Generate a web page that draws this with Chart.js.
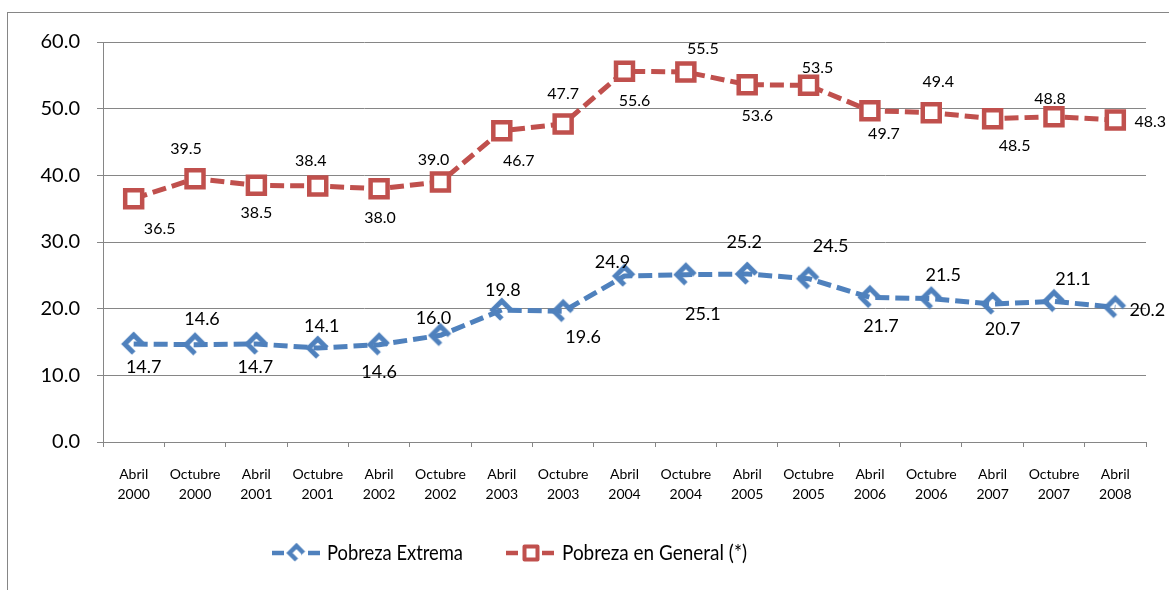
<!DOCTYPE html>
<html>
<head>
<meta charset="utf-8">
<script src="https://cdn.jsdelivr.net/npm/chart.js@4/dist/chart.umd.min.js"></script>
<style>
  html, body { margin: 0; padding: 0; background: #fff; }
  #wrap { width: 1169px; height: 590px; position: relative; }
</style>
</head>
<body>
<div id="wrap"><canvas id="c" width="1169" height="590"></canvas></div>
<script>
// ---- data ----
const categories = [
  ['Abril','2000'],['Octubre','2000'],['Abril','2001'],['Octubre','2001'],
  ['Abril','2002'],['Octubre','2002'],['Abril','2003'],['Octubre','2003'],
  ['Abril','2004'],['Octubre','2004'],['Abril','2005'],['Octubre','2005'],
  ['Abril','2006'],['Octubre','2006'],['Abril','2007'],['Octubre','2007'],
  ['Abril','2008']
];
const seriesNames = ['Pobreza Extrema', 'Pobreza en General (*)'];
const pobrezaExtrema = [14.7, 14.6, 14.7, 14.1, 14.6, 16.0, 19.8, 19.6, 24.9, 25.1, 25.2, 24.5, 21.7, 21.5, 20.7, 21.1, 20.2];
const pobrezaGeneral = [36.5, 39.5, 38.5, 38.4, 38.0, 39.0, 46.7, 47.7, 55.6, 55.5, 53.6, 53.5, 49.7, 49.4, 48.5, 48.8, 48.3];
const yTicks = [0, 10, 20, 30, 40, 50, 60];

// ---- label placement (offsets from each point, in px) ----
const extremaLabelOffsets = [[10,23],[7,-25],[-1,23],[4,-22],[0,28],[-7,-17],[1,-20],[20,26],[-12,-14],[17,40],[-3,-32],[22,-32],[11,29],[12,-23],[10,25],[19,-22],[32,3]];
const generalLabelOffsets = [[26,30],[-9,-30],[0,28],[-7,-25],[1,29],[-7,-22],[17,30],[0,-30],[10,30],[17,-23],[10,31],[9,-17],[14,23],[7,-31],[22,27],[-4,-18],[35,2]];

const BLUE = '#4F81BD';
const RED = '#C0504D';
const GRID = '#868686';
const FONT = 'Lato, "Open Sans", sans-serif';

function makeChevron(color, s, w) {
  const c = document.createElement('canvas');
  c.width = 28; c.height = 28;
  const g = c.getContext('2d');
  g.strokeStyle = color; g.lineWidth = w; g.lineJoin = 'miter'; g.lineCap = 'butt';
  const m = 14;
  g.beginPath();
  g.moveTo(m, m + s);
  g.lineTo(m - s, m);
  g.lineTo(m, m - s);
  g.lineTo(m + s, m);
  g.stroke();
  return c;
}
const chevron = makeChevron(BLUE, 9, 5);
const chevronSmall = makeChevron(BLUE, 7, 4.5);

const framePlugin = {
  id: 'frame',
  beforeDraw(chart) {
    const ctx = chart.ctx;
    ctx.save();
    ctx.fillStyle = '#fff';
    ctx.fillRect(0, 0, chart.width, chart.height);
    ctx.strokeStyle = GRID;
    ctx.lineWidth = 1;
    ctx.strokeRect(7.5, 12.5, 1300, 700);
    ctx.restore();
  }
};

const labelPlugin = {
  id: 'valueLabels',
  afterDatasetsDraw(chart) {
    const ctx = chart.ctx;
    const cfgs = [
      { idx: 0, values: pobrezaExtrema, offs: extremaLabelOffsets, size: 18 },
      { idx: 1, values: pobrezaGeneral, offs: generalLabelOffsets, size: 16 }
    ];
    ctx.save();
    ctx.fillStyle = '#000';
    ctx.textAlign = 'center';
    ctx.textBaseline = 'middle';
    cfgs.forEach(cfg => {
      const meta = chart.getDatasetMeta(cfg.idx);
      ctx.font = cfg.size + 'px ' + FONT;
      meta.data.forEach((pt, i) => {
        const o = cfg.offs[i];
        ctx.fillText(cfg.values[i].toFixed(1), pt.x + o[0], pt.y + o[1]);
      });
    });
    ctx.restore();
  }
};

const legendPlugin = {
  id: 'customLegend',
  afterDraw(chart) {
    const ctx = chart.ctx;
    const y = 553;
    const items = [
      { x0: 272, x1: 321, tx: 327, tw: 136, color: BLUE, marker: 'chev', text: seriesNames[0] },
      { x0: 506, x1: 556, tx: 562, tw: 185, color: RED, marker: 'rect', text: seriesNames[1] }
    ];
    ctx.save();
    items.forEach(it => {
      ctx.strokeStyle = it.color;
      ctx.lineWidth = 4.5;
      ctx.setLineDash([12, 6]);
      ctx.beginPath();
      ctx.moveTo(it.x0, y);
      ctx.lineTo(it.x1, y);
      ctx.stroke();
      ctx.setLineDash([]);
      const cx = (it.x0 + it.x1) / 2;
      if (it.marker === 'rect') {
        ctx.fillStyle = '#fff';
        ctx.lineWidth = 4;
        ctx.lineJoin = 'round';
        ctx.fillRect(cx - 6.5, y - 6.5, 13, 13);
        ctx.strokeRect(cx - 6.5, y - 6.5, 13, 13);
      } else {
        ctx.fillStyle = '#fff';
        ctx.fillRect(cx - 7, y - 8, 12, 16);
        ctx.drawImage(chevronSmall, cx - 14, y - 14);
      }
      ctx.fillStyle = '#000';
      ctx.font = '22px ' + FONT;
      ctx.textAlign = 'left';
      ctx.textBaseline = 'middle';
      const w = ctx.measureText(it.text).width;
      const sx = Math.min(1, it.tw / w);
      ctx.save();
      ctx.translate(it.tx, y);
      ctx.scale(sx, 1);
      ctx.fillText(it.text, 0, 0);
      ctx.restore();
    });
    ctx.restore();
  }
};

new Chart(document.getElementById('c'), {
  type: 'line',
  data: {
    labels: categories,
    datasets: [
      {
        label: seriesNames[0],
        data: pobrezaExtrema,
        borderColor: BLUE,
        backgroundColor: BLUE,
        borderWidth: 5,
        borderDash: [14, 6],
        tension: 0,
        pointStyle: chevron,
        pointRadius: 10,
        pointHoverRadius: 10
      },
      {
        label: seriesNames[1],
        data: pobrezaGeneral,
        borderColor: RED,
        backgroundColor: '#fff',
        borderWidth: 5,
        borderDash: [14, 6],
        tension: 0,
        pointStyle: 'rect',
        pointRadius: 12,
        pointHoverRadius: 12,
        pointBorderWidth: 4.5,
        pointBorderColor: RED,
        pointBackgroundColor: '#fff'
      }
    ]
  },
  options: {
    responsive: false,
    animation: false,
    devicePixelRatio: 1,
    layout: { padding: { top: 42, right: 23, left: 0, bottom: 0 } },
    plugins: {
      legend: { display: false },
      tooltip: { enabled: false },
      title: { display: false }
    },
    elements: { line: { borderJoinStyle: 'round' } },
    scales: {
      x: {
        offset: true,
        grid: { offset: true, drawOnChartArea: false, drawTicks: true, tickLength: 5, color: GRID, lineWidth: 1 },
        border: { color: GRID, width: 1 },
        ticks: {
          color: '#000',
          font: { family: FONT, size: 14, lineHeight: 1.43 },
          maxRotation: 0, minRotation: 0, autoSkip: false, padding: 17
        },
        afterFit(scale) { scale.height = 148; }
      },
      y: {
        min: 0, max: 60,
        afterBuildTicks(scale) { scale.ticks = yTicks.map(v => ({ value: v })); },
        grid: { color: GRID, lineWidth: 1, tickLength: 6 },
        border: { color: GRID, width: 1 },
        ticks: {
          color: '#000',
          font: { family: FONT, size: 20 },
          padding: 17,
          callback: v => Number(v).toFixed(1)
        },
        afterFit(scale) { scale.width = 103; }
      }
    }
  },
  plugins: [framePlugin, labelPlugin, legendPlugin]
});
</script>
</body>
</html>
